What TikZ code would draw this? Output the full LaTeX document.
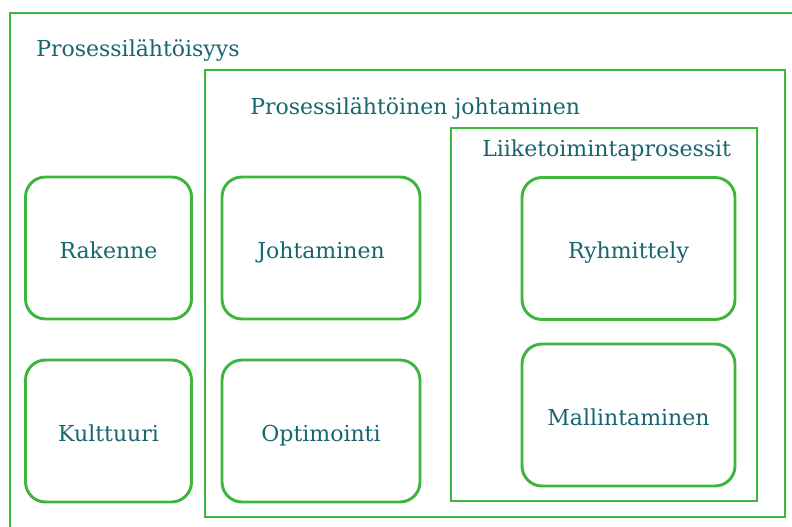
\documentclass[tikz,border=0pt]{standalone}
\usepackage{fontspec}
\setmainfont{DejaVu Serif}
\definecolor{framegreen}{HTML}{3DB63D}
\definecolor{labelteal}{HTML}{17666E}
\begin{document}
\begin{tikzpicture}[x=0.75pt,y=-0.75pt,
  frame/.style={draw=framegreen, line width=2.2pt},
  itembox/.style={frame, rounded corners=15pt, fill=white, inner sep=0pt,
    text height=16pt, text depth=1pt,
    font=\fontsize{16.5pt}{19pt}\selectfont, text=labelteal},
  heading/.style={anchor=base west, inner sep=0pt, text=labelteal,
    font=\fontsize{16.5pt}{19pt}\selectfont}]
\useasboundingbox (0,0) rectangle (792,527);
\clip (0,0) rectangle (792,527);
% nested frames
\draw[frame] (10,13) rectangle (806,545);
\draw[frame] (205,70) rectangle (785,517);
\draw[frame] (451,128) rectangle (757,501);
% frame headings
\node[heading] (h1) at (36,57) {Prosessilähtöisyys};
\node[heading] (h2) at (250,115) {Prosessilähtöinen johtaminen};
\node[heading] (h3) at (482,157) {Liiketoimintaprosessit};
% item boxes
\node[itembox, minimum width=124.5pt, minimum height=106.5pt] (rak) at (108.5,248) {Rakenne};
\node[itembox, minimum width=124.5pt, minimum height=106.5pt] (kul) at (108.5,431) {Kulttuuri};
\node[itembox, minimum width=148.5pt, minimum height=106.5pt] (joh) at (321,248) {Johtaminen};
\node[itembox, minimum width=148.5pt, minimum height=106.5pt] (opt) at (321,431) {Optimointi};
\node[itembox, minimum width=159.75pt, minimum height=106.5pt] (ryh) at (628.5,248.5) {Ryhmittely};
\node[itembox, minimum width=159.75pt, minimum height=106.5pt] (mal) at (628.5,415) {Mallintaminen};
\end{tikzpicture}
\end{document}
